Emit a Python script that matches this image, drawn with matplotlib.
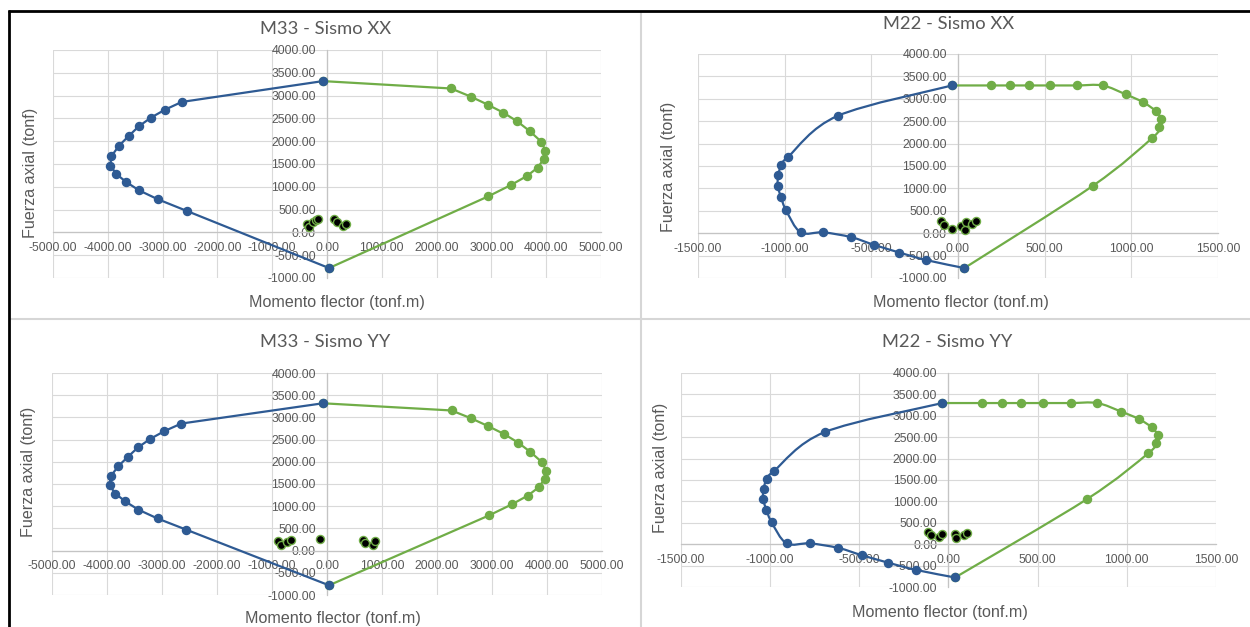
import numpy as np
import matplotlib
matplotlib.use("Agg")
import matplotlib.pyplot as plt
from matplotlib.path import Path
from matplotlib.patches import PathPatch
from matplotlib.lines import Line2D
from matplotlib.ticker import FuncFormatter

# ---- Interaction diagram capacity curves (M in tonf.m, P in tonf) ----
# M33 direction: negative-moment branch (blue) and positive-moment branch (green)
m33_neg_M = [-74, -2650, -2955, -3215, -3437, -3619, -3794, -3935, -3954, -3846, -3671, -3430, -3081, -2561, 37]
m33_neg_P = [3318, 2861, 2692, 2515, 2323, 2113, 1903, 1670, 1467, 1283, 1110, 922, 723, 472, -782]
m33_pos_M = [-74, 2264, 2621, 2932, 3215, 3474, 3697, 3912, 3987, 3957, 3846, 3653, 3363, 2947, 37]
m33_pos_P = [3318, 3156, 2979, 2802, 2628, 2433, 2223, 1987, 1788, 1611, 1423, 1240, 1043, 793, -782]

# M22 direction
m22_neg_M = [-34, -694, -979, -1020, -1037, -1040, -1021, -992, -908, -778, -617, -486, -338, -183, 37]
m22_neg_P = [3298, 2619, 1711, 1514, 1294, 1055, 805, 512, 19, 19, -88, -258, -432, -600, -778]
m22_pos_M = [-34, 190, 302, 408, 529, 686, 834, 967, 1069, 1140, 1172, 1162, 1120, 777, 37]
m22_pos_P = [3298, 3298, 3298, 3298, 3298, 3298, 3298, 3100, 2922, 2728, 2550, 2360, 2125, 1055, -778]

# ---- Demand points (load combinations) ----
dem_m33_xx_M = [-370, -330, -250, -200, -170, 130, 180, 300, 350]
dem_m33_xx_P = [185, 110, 220, 270, 300, 290, 220, 130, 185]
dem_m22_xx_M = [-98, -78, -33, 15, 38, 44, 83, 102]
dem_m22_xx_P = [275, 190, 100, 155, 80, 250, 205, 275]
dem_m33_yy_M = [-890, -830, -720, -650, -130, 650, 690, 830, 870]
dem_m33_yy_P = [210, 120, 190, 250, 270, 250, 170, 120, 210]
dem_m22_yy_M = [-113, -97, -56, -34, 34, 41, 86, 106]
dem_m22_yy_P = [288, 210, 171, 249, 249, 148, 210, 272]

titles = ["M33 - Sismo XX", "M22 - Sismo XX", "M33 - Sismo YY", "M22 - Sismo YY"]
xlabel_text = "Momento flector (tonf.m)"
ylabel_text = "Fuerza axial (tonf)"

BLUE = "#2E5A93"
GREEN = "#70AD47"
TXT = "#595959"
GRID = "#D9D9D9"

W, H = 1250, 627
fig = plt.figure(figsize=(W / 100, H / 100), dpi=100)
fig.patch.set_facecolor("white")


def px_axes(l, t, r, b):
    return fig.add_axes([l / W, 1 - b / H, (r - l) / W, (b - t) / H])


def smooth_path(xs, ys):
    pts = np.column_stack([xs, ys]).astype(float)
    n = len(pts)
    verts = [pts[0]]
    codes = [Path.MOVETO]
    for i in range(n - 1):
        p0 = pts[i - 1] if i > 0 else pts[i]
        p1 = pts[i]
        p2 = pts[i + 1]
        p3 = pts[i + 2] if i + 2 < n else pts[i + 1]
        verts += [p1 + (p2 - p0) / 6.0, p2 - (p3 - p1) / 6.0, p2]
        codes += [Path.CURVE4] * 3
    return Path(verts, codes)


def draw_panel(box, xlim, xstep, curves, demand, smooth, title, tpos, xlpos, ylpos):
    ax = px_axes(*box)
    ax.set_xlim(*xlim)
    ax.set_ylim(-1000, 4000)
    ax.set_xticks(np.arange(xlim[0], xlim[1] + 1, xstep))
    ax.set_yticks(np.arange(-1000, 4001, 500))
    fmt = FuncFormatter(lambda v, p: f"{v:.2f}")
    ax.xaxis.set_major_formatter(fmt)
    ax.yaxis.set_major_formatter(fmt)
    ax.grid(True, color=GRID, lw=0.8)
    ax.set_axisbelow(True)
    for s in ("top", "right"):
        ax.spines[s].set_visible(False)
    ax.spines["left"].set_position(("data", 0))
    ax.spines["bottom"].set_position(("data", 0))
    for s in ("left", "bottom"):
        ax.spines[s].set_color("#C4C4C4")
        ax.spines[s].set_linewidth(0.9)
        ax.spines[s].set_zorder(1)
    ax.tick_params(length=0, labelsize=8.8, labelcolor=TXT)
    ax.tick_params(axis="x", pad=7)
    ax.tick_params(axis="y", pad=8)
    for lab in ax.get_xticklabels() + ax.get_yticklabels():
        lab.set_family("Liberation Sans")

    for (mx, py, col) in curves:
        if smooth:
            ax.add_patch(PathPatch(smooth_path(mx, py), fill=False, ec=col, lw=1.6, zorder=3))
        else:
            ax.plot(mx, py, color=col, lw=1.6, zorder=3)
        ax.plot(mx, py, ls="none", marker="o", ms=5.8, mfc=col, mec=col, zorder=4)
    ax.plot(demand[0], demand[1], ls="none", marker="o", ms=5.8, mfc="black",
            mec=GREEN, mew=1.0, zorder=5)

    fig.text(tpos[0] / W, 1 - tpos[1] / H, title, ha="center", va="center",
             fontsize=13.2, color=TXT, family="Lato")
    fig.text(xlpos[0] / W, 1 - xlpos[1] / H, xlabel_text, ha="center", va="center",
             fontsize=11.6, color=TXT, family="Liberation Sans")
    fig.text(ylpos[0] / W, 1 - ylpos[1] / H, ylabel_text, ha="center", va="center",
             rotation=90, fontsize=11.6, color=TXT, family="Liberation Sans")
    return ax


m33_curves = [(m33_pos_M, m33_pos_P, GREEN), (m33_neg_M, m33_neg_P, BLUE)]
m22_curves = [(m22_pos_M, m22_pos_P, GREEN), (m22_neg_M, m22_neg_P, BLUE)]

draw_panel((53, 50, 601, 278), (-5000, 5000), 1000, m33_curves,
           (dem_m33_xx_M, dem_m33_xx_P), False, titles[0], (326, 29), (337, 303), (30, 173))
draw_panel((698, 54, 1218, 278), (-1500, 1500), 500, m22_curves,
           (dem_m22_xx_M, dem_m22_xx_P), True, titles[1], (949, 24), (961, 303), (669, 167))
draw_panel((52, 373, 602, 595), (-5000, 5000), 1000, m33_curves,
           (dem_m33_yy_M, dem_m33_yy_P), False, titles[2], (325, 342), (333, 619), (28, 472))
draw_panel((681, 373, 1216, 587), (-1500, 1500), 500, m22_curves,
           (dem_m22_yy_M, dem_m22_yy_P), True, titles[3], (947, 342), (940, 612), (660, 468))

# Frame and dividers of the composite
def fig_line(x0, y0, x1, y1, color, lw):
    fig.add_artist(Line2D([x0 / W, x1 / W], [1 - y0 / H, 1 - y1 / H],
                          transform=fig.transFigure, color=color, lw=lw, solid_capstyle="butt"))

fig_line(641, 12, 641, 627, "#D6D6D6", 1.5)
fig_line(10, 319, 1250, 319, "#D6D6D6", 1.5)
fig_line(8, 10.5, 1250, 10.5, "black", 2.0)
fig_line(9, 10, 9, 627, "black", 2.0)

fig.savefig("out.png", dpi=100, facecolor="white")
